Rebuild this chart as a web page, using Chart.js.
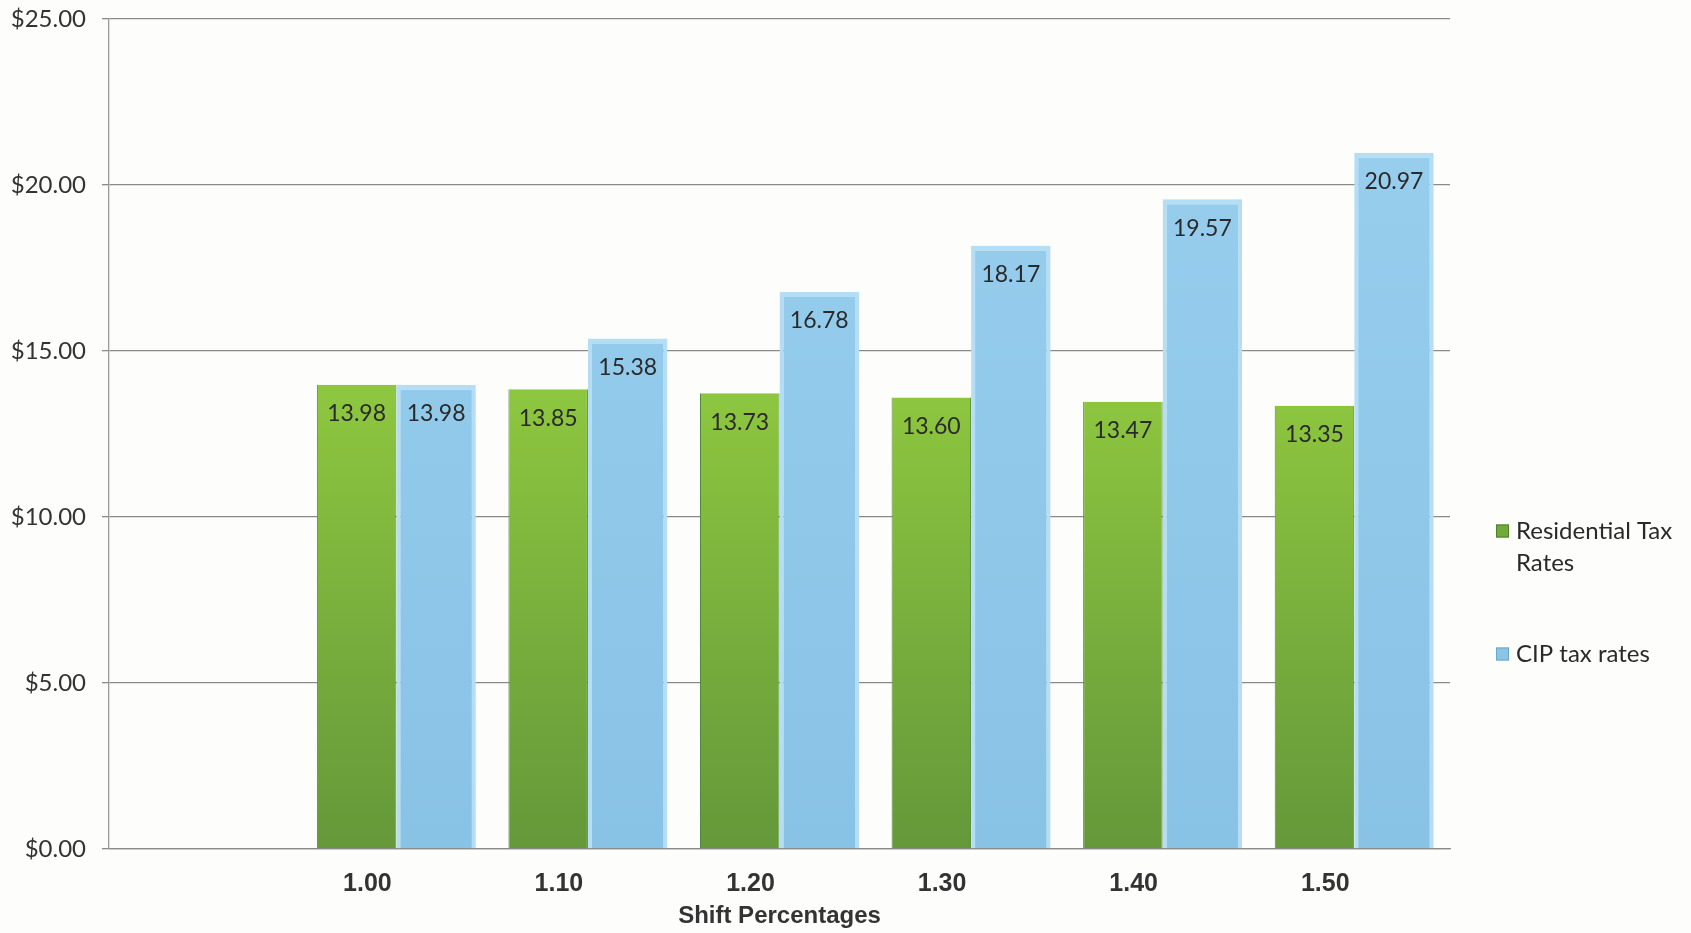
<!DOCTYPE html>
<html>
<head>
<meta charset="utf-8">
<script src="https://cdn.jsdelivr.net/npm/chart.js@4.4.1/dist/chart.umd.min.js"></script>
<style>
  html, body { margin: 0; padding: 0; background: #fdfdfb; }
  #wrap { width: 1691px; height: 933px; position: relative; }
</style>
</head>
<body>
<div id="wrap"><canvas id="c" width="1691" height="933"></canvas></div>
<script>
const categories = ["", "1.00", "1.10", "1.20", "1.30", "1.40", "1.50"];
const residentialRates = [null, 13.98, 13.85, 13.73, 13.60, 13.47, 13.35];
const cipRates = [null, 13.98, 15.38, 16.78, 18.17, 19.57, 20.97];
const seriesNames = ["Residential Tax Rates", "CIP tax rates"];
const legendLines = [["Residential Tax", "Rates"], ["CIP tax rates"]];
const yMin = 0, yMax = 25, yStep = 5;
const xTitle = "Shift Percentages";

function greenFill(ctx) {
  const ca = ctx.chart.chartArea;
  if (!ca) return '#7cb63c';
  const g = ctx.chart.ctx.createLinearGradient(0, ca.top, 0, ca.bottom);
  g.addColorStop(0, '#a4d84c');
  g.addColorStop(0.44, '#8ec73f');
  g.addColorStop(1, '#64983a');
  return g;
}
function blueFill(ctx) {
  const ca = ctx.chart.chartArea;
  if (!ca) return '#8cc4e6';
  const g = ctx.chart.ctx.createLinearGradient(0, ca.top, 0, ca.bottom);
  g.addColorStop(0, '#9ad0ef');
  g.addColorStop(1, '#88c2e5');
  return g;
}

const valueLabels = {
  id: 'valueLabels',
  afterDatasetsDraw(chart) {
    const c = chart.ctx;
    c.save();
    c.font = '23px Lato';
    c.fillStyle = '#2a2a2a';
    c.textAlign = 'center';
    c.textBaseline = 'middle';
    chart.data.datasets.forEach((ds, i) => {
      const meta = chart.getDatasetMeta(i);
      meta.data.forEach((el, j) => {
        const v = ds.data[j];
        if (v === null || v === undefined) return;
        c.fillText(v.toFixed(2), el.x, el.y + 29);
      });
    });
    c.restore();
  }
};

const sideLegend = {
  id: 'sideLegend',
  afterDraw(chart) {
    const c = chart.ctx;
    const ca = chart.chartArea;
    const x = ca.right + 46;
    const rows = [ca.bottom - 318, ca.bottom - 195];
    c.save();
    c.font = '24px Lato';
    c.textBaseline = 'middle';
    c.textAlign = 'left';
    chart.data.datasets.forEach((ds, i) => {
      const y = rows[i];
      const sq = 13;
      c.fillStyle = i === 0 ? '#6faa3a' : '#8cc4e6';
      c.fillRect(x, y - sq / 2, sq, sq);
      c.strokeStyle = i === 0 ? '#4f7f2c' : '#6aa8cc';
      c.lineWidth = 1;
      c.strokeRect(x + 0.5, y - sq / 2 + 0.5, sq - 1, sq - 1);
      c.fillStyle = '#2a2a2a';
      legendLines[i].forEach((t, k) => c.fillText(t, x + 20, y + k * 32));
    });
    c.restore();
  }
};

new Chart(document.getElementById('c'), {
  type: 'bar',
  data: {
    labels: categories,
    datasets: [
      {
        label: seriesNames[0],
        data: residentialRates,
        backgroundColor: greenFill,
        borderColor: '#4f8a3a',
        borderWidth: { left: 1, right: 1, top: 0, bottom: 0 },
        borderSkipped: 'bottom'
      },
      {
        label: seriesNames[1],
        data: cipRates,
        backgroundColor: blueFill,
        borderColor: '#b5def4',
        borderWidth: { left: 4, right: 4, top: 5, bottom: 0 },
        borderSkipped: 'bottom'
      }
    ]
  },
  options: {
    responsive: false,
    animation: false,
    devicePixelRatio: 1,
    layout: { padding: { top: 19, right: 241, left: 0, bottom: 0 } },
    datasets: { bar: { categoryPercentage: 0.83, barPercentage: 1.0 } },
    plugins: {
      legend: { display: false },
      tooltip: { enabled: false }
    },
    scales: {
      x: {
        grid: { display: false, drawTicks: false },
        border: { display: true, color: '#8a8a8a', width: 1.3 },
        ticks: {
          font: { family: 'Liberation Sans', size: 25, weight: 'bold' },
          color: '#333333',
          padding: 20,
          labelOffset: -29,
          maxRotation: 0,
          autoSkip: false
        },
        title: {
          display: true,
          text: xTitle,
          font: { family: 'Liberation Sans', size: 24, weight: 'bold' },
          color: '#333333',
          padding: { top: 0, bottom: 2 }
        },
        afterFit(scale) { scale.height = 84; scale.paddingLeft = 0; scale.paddingRight = 0; }
      },
      y: {
        min: yMin,
        max: yMax,
        ticks: {
          stepSize: yStep,
          font: { family: 'Lato', size: 24 },
          color: '#333333',
          padding: 16,
          callback: v => '$' + Number(v).toFixed(2)
        },
        grid: { color: '#8a8a8a', lineWidth: 1.3, tickLength: 7 },
        border: { display: true, color: '#9a9a9a', width: 1.3 },
        afterFit(scale) { scale.width = 109; scale.paddingTop = 0; scale.paddingBottom = 0; }
      }
    }
  },
  plugins: [valueLabels, sideLegend]
});
</script>
</body>
</html>
